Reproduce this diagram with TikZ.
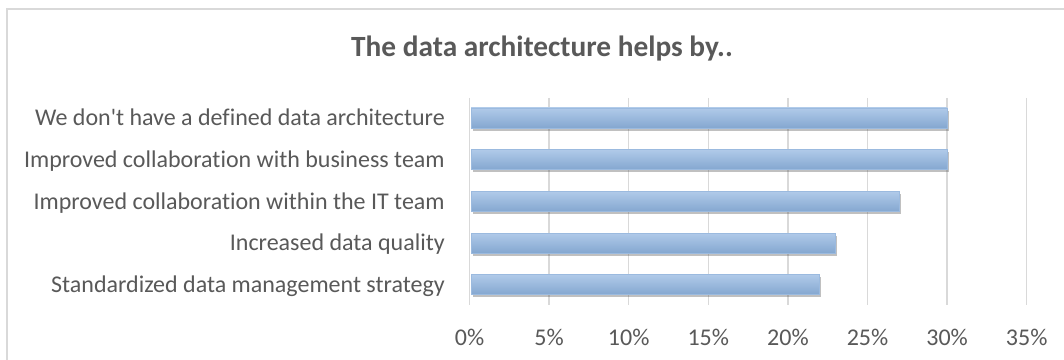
\documentclass[tikz,border=0pt]{standalone}
\usepackage{fontspec}
\setmainfont{Carlito}[Ligatures={TeXOff,NoCommon}]
\usetikzlibrary{positioning,shadows}

\definecolor{txtgray}{HTML}{595959}
\definecolor{gridgray}{HTML}{D9D9D9}
\definecolor{barlight}{HTML}{B0CAE9}
\definecolor{bardark}{HTML}{84A7D0}
\definecolor{baredge}{HTML}{9BBADF}

\begin{document}
\begin{tikzpicture}[x=0.75pt,y=-0.75pt,
  lbl/.style={anchor=base east,inner sep=0pt,text=txtgray,font=\fontsize{18}{21}\selectfont},
  tick/.style={anchor=base,inner sep=0pt,text=txtgray,font=\fontsize{18}{21}\selectfont},
  gridln/.style={draw=gridgray,line width=1.1pt},
  barbox/.style={anchor=west,inner sep=0pt,outer sep=0pt,minimum height=15pt,
    top color=barlight,bottom color=bardark,draw=baredge,line width=0.4pt,
    drop shadow={shadow xshift=1.2pt,shadow yshift=-2pt,opacity=0.35,fill=black!70}}]
\useasboundingbox (0,0) rectangle (1064,360);
\clip (0,0) rectangle (1064,360);
\fill[white] (0,0) rectangle (1064,360);
% chart frame
\draw[gridgray,line width=1.2pt] (1100,9) -| (7,400);
\node (title) [anchor=base,inner sep=0pt,text=txtgray,font=\bfseries\fontsize{22}{26}\selectfont] at (542,57) {The data architecture helps by..};
% grid and ticks
\foreach \p in {0,5,...,35}{
  \coordinate (gtop\p) at ({469.5+15.92*\p},98);
  \coordinate (gbot\p) at ({469.5+15.92*\p},305);
  \draw[gridln] (gtop\p) -- (gbot\p);
  \node[tick] (tick\p) at ({469.5+15.92*\p},345) {\p\%};
}
% bars and labels
\foreach \val/\yc/\txt [count=\i] in {
  30/118/We don't have a defined data architecture,
  30/159.5/Improved collaboration with business team,
  27/201.5/Improved collaboration within the IT team,
  23/243/Increased data quality,
  22/284.5/Standardized data management strategy}{
  \node[barbox,minimum width={(15.92*\val-1.5)*0.75pt}] (bar\i) at (471,\yc) {};
  \node[lbl] (lab\i) at (445,\yc+7.5) {\txt};
}
\end{tikzpicture}
\end{document}
